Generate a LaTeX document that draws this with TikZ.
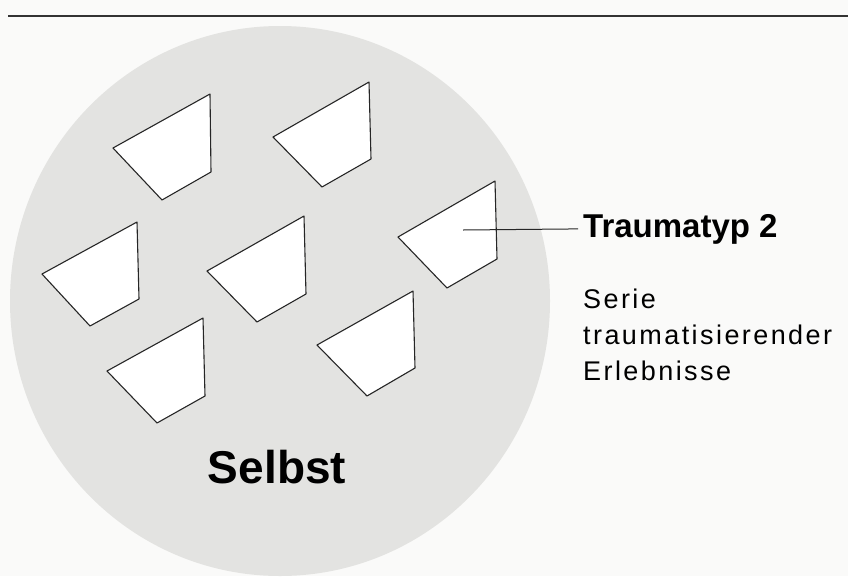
\documentclass[tikz,border=0pt]{standalone}
\usepackage{fontspec}
\usepackage{tikz}
\usepackage{xcolor}
\setsansfont{Liberation Sans}
\usetikzlibrary{positioning}
\definecolor{selbstgray}{RGB}{227,227,225}
\definecolor{paper}{RGB}{250,250,249}

\begin{document}
\begin{tikzpicture}[
      x=1pt,y=-1pt,
      piece/.style={draw=black!85,fill=white,line width=1.1pt,line join=round},
      leader/.style={draw=black!85,line width=1pt},
      title/.style={font=\sffamily\bfseries\fontsize{33}{36}\selectfont,inner xsep=5pt,inner ysep=0pt,anchor=base west},
      desc/.style={font=\sffamily\fontsize{27}{36}\selectfont\addfontfeature{LetterSpace=9},align=left,inner xsep=5pt,inner ysep=0pt,anchor=base west},
      selbst/.style={font=\sffamily\bfseries\fontsize{46}{50}\selectfont,inner sep=0pt,anchor=base}
    ]
    \useasboundingbox (0,0) rectangle (848,576);
    \fill[paper] (0,0) rectangle (848,576);
    \draw[line width=1.6pt,black!80] (8,16) -- (848,16);
    \fill[selbstgray] (280,301) ellipse [x radius=270pt,y radius=275pt];
    \draw[piece] (113,148) -- (210,94) -- (211,172) -- (162,200) -- cycle;
    \draw[piece] (273,137) -- (369,82) -- (371,159) -- (322,187) -- cycle;
    \draw[piece] (42,274) -- (137,222) -- (139,299) -- (90,326) -- cycle;
    \draw[piece] (207,271) -- (304,216) -- (306,294) -- (257,322) -- cycle;
    \draw[piece] (398,237) -- (495,181) -- (497,259) -- (447,288) -- cycle;
    \draw[piece] (107,371) -- (203,318) -- (205,396) -- (157,423) -- cycle;
    \draw[piece] (317,345) -- (413,291) -- (415,368) -- (367,396) -- cycle;
    \coordinate (hit) at (463,230);
    \node[title] (typ) at (578,237) {Traumatyp 2};
    \node[desc] (serie) at (578,380) {Serie\\traumatisierender\\Erlebnisse};
    \node[selbst] (selbst) at (277,483) {Selbst};
    \draw[leader] (hit) -- (typ.west);
  \end{tikzpicture}
\end{document}
